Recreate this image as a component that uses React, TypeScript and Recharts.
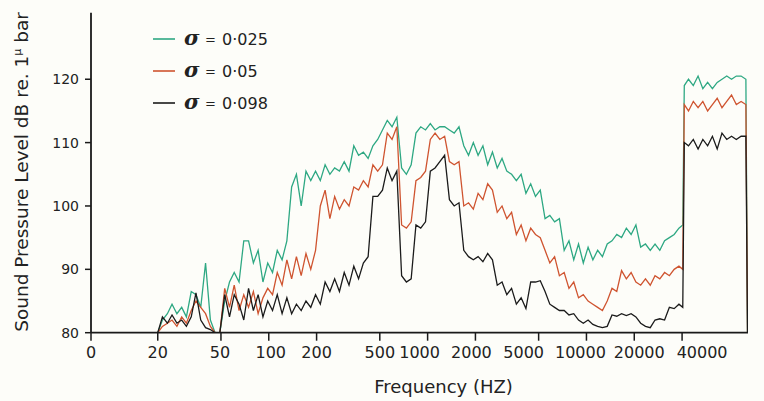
import React from 'react';
import { LineChart, Line, XAxis, YAxis, Legend } from 'recharts';

// Frequency (Hz) sample points read along the log axis
const freqHz = [7.6, 20, 21.4, 23, 24.6, 26.4, 28.3, 30.3, 32.5, 34.8, 37.3, 40, 42.9, 45.9, 49.2, 52.8, 56.6, 60.6, 65, 69.6, 74.6, 80, 85.7, 91.9, 98.5, 105.6, 113.1, 121.3, 130, 139.3, 149.3, 160, 171.5, 183.8, 197, 211.1, 226.3, 242.5, 259.9, 278.6, 298.6, 320, 343, 367.6, 394, 422.2, 452.5, 485, 519.8, 557.2, 597.2, 640, 686, 735.2, 788, 844.5, 905, 970, 1040, 1114, 1194, 1280, 1372, 1470, 1576, 1689, 1810, 1940, 2079, 2229, 2389, 2560, 2744, 2941, 3152, 3378, 3620, 3880, 4159, 4457, 4777, 5120, 5487, 5881, 6303, 6756, 7241, 7761, 8318, 8915, 9554, 10240, 10975, 11763, 12607, 13512, 14482, 15521, 16635, 17829, 19109, 20480, 21950, 23525, 25214, 27024, 28963, 31042, 33270, 35658, 38217, 40400, 41300, 43900, 47051, 50428, 54048, 57927, 62085, 66541, 71317, 76436, 81920, 87800, 94101, 100855, 103300, 104000];

// sigma = 0.025 (green)
const sigma025 = [80, 80, 82, 83, 84.5, 83, 84, 82.5, 86.5, 86, 84, 91, 82, 80, 80, 85, 88, 89.5, 88, 94.5, 94.5, 91, 93, 88, 91, 89.5, 93, 91.5, 94.5, 103, 105, 100, 105.5, 104, 105.5, 104, 106.5, 105, 106, 105.5, 107, 105.5, 109.5, 108, 108.5, 107.5, 109.5, 110.5, 112, 113.5, 112.5, 114, 106, 105, 106.5, 111.5, 112.5, 112, 113, 112, 112.5, 112.5, 112, 111.5, 112.5, 109.5, 108, 110, 108, 109.5, 106.5, 108.5, 106, 107.5, 105.5, 105, 104, 105, 102, 103.5, 101.5, 102.5, 98, 98.5, 97.5, 98, 93, 94.5, 91.5, 94, 91, 93.5, 91.5, 93, 92, 94, 94.5, 95.5, 95, 96.5, 95.5, 97, 93.5, 94, 93, 94, 93, 94.5, 95, 95.5, 96.5, 97, 119, 120, 119, 120.5, 118.5, 119.5, 118.5, 119.5, 120, 120.5, 120, 120.5, 120.5, 120, 80, 80];

// sigma = 0.05 (red)
const sigma05 = [80, 80, 81, 81.5, 82, 81, 82.5, 81.5, 83.5, 85, 84, 83, 81, 80, 80, 87, 84, 87.5, 83.5, 86, 84, 86.5, 83, 85.5, 87, 86, 89.5, 87.5, 91.5, 88.5, 92, 89, 92.5, 90, 93, 100, 102.5, 98, 101.5, 99.5, 101, 100, 103, 102.5, 104, 103, 106.5, 105.5, 106.5, 111.5, 110.5, 112.5, 97, 96.5, 97.5, 104, 104.5, 105.5, 110.5, 111.5, 110.5, 111, 107, 106.5, 107, 100, 100.5, 99.5, 102, 101, 103.5, 102.5, 99, 100, 98, 99, 95.5, 97, 94.5, 96.5, 95.5, 95, 93, 91, 92, 89, 89.5, 87, 88, 85.5, 86, 85, 84.5, 84, 83.5, 85, 87, 86.5, 89.8, 88.5, 89.5, 88, 87.5, 88.5, 87.5, 89, 88.5, 89.5, 89, 90, 90.5, 90, 116, 115, 116.5, 115.5, 116.5, 115, 116, 117, 115.5, 116.5, 117.5, 116, 116.5, 116, 80, 80];

// sigma = 0.098 (black)
const sigma098 = [80, 80, 82.5, 81.5, 82.8, 81.5, 82, 81, 82.5, 86.3, 82, 80.8, 80.5, 80, 80, 86, 82.5, 86, 84.5, 82, 87, 83.5, 86, 82.5, 85, 83.5, 86, 83, 85.5, 83, 84.5, 83.5, 85, 84, 86, 84.5, 88, 86.5, 88.5, 86.5, 89.5, 87.5, 90.5, 88.5, 91, 92, 101.5, 101.5, 102.5, 106, 104, 105.5, 89, 88, 88.5, 97, 96.5, 97.5, 105.5, 106, 107, 108, 101, 100, 100.5, 93, 92, 91.5, 92, 91.2, 92.5, 91.5, 87.5, 88, 86, 87, 84.5, 85.5, 83.8, 88, 88, 88.2, 86.5, 84.5, 84, 83.5, 83.5, 82.8, 83, 82, 81.5, 82, 81.3, 81, 80.8, 81, 82.8, 82.6, 83, 82.7, 83, 82.5, 81.5, 81, 80.8, 82, 82.2, 82, 84, 83.8, 84.5, 84, 110, 109.5, 110.5, 109, 110.5, 109.5, 111, 109, 111.5, 110.5, 111, 110.5, 111, 111, 80, 80];

const xTicks = [7.6, 20, 50, 100, 200, 500, 1000, 2000, 5000, 10000, 20000, 40000];
const xTickLabels = ['0', '20', '50', '100', '200', '500', '1000', '2000', '5000', '10000', '20000', '40000'];
// horizontal nudge of each printed tick label (hand-set lettering in the original)
const xTickShift = [0, 0, -1, 2, 0, 0, -8, -4, -15, -6, 5, 20];
const yTicks = [80, 90, 100, 110, 120];
const seriesKeys = ['s1', 's2', 's3'];
const seriesNames = ['0·025', '0·05', '0·098'];
const seriesColors = ['#2ea883', '#cf5430', '#1b1b1b'];

const data = freqHz.map((f, i) => ({ f, s1: sigma025[i], s2: sigma05[i], s3: sigma098[i] }));

const FONT = 'DejaVu Sans';
const INK = '#222';

const XTick = (props: any) => {
  const { x, y, payload } = props;
  const i = xTicks.indexOf(payload.value);
  return (
    <text
      x={x + (i >= 0 ? xTickShift[i] : 0)}
      y={y}
      dy="0.71em"
      textAnchor="middle"
      fontFamily={FONT}
      fontSize={16}
      fill={INK}
    >
      {i >= 0 ? xTickLabels[i] : String(payload.value)}
    </text>
  );
};

const renderLegend = () => (
  <svg width={140} height={96}>
    {seriesNames.map((n, i) => (
      <g key={n}>
        <line x1={3} x2={25} y1={16 + 32 * i} y2={16 + 32 * i} stroke={seriesColors[i]} strokeWidth={1.6} />
        <text x={34} y={21.5 + 32 * i} fontFamily="DejaVu Serif" fontStyle="italic" fontWeight="bold" fontSize={21} fill={INK}>σ</text>
        <text x={55} y={20.5 + 32 * i} fontFamily={FONT} fontSize={13} fill={INK}>=</text>
        <text x={72} y={21.5 + 32 * i} fontFamily={FONT} fontSize={16} fill={INK}>{n}</text>
      </g>
    ))}
  </svg>
);

const YLabel = () => (
  <text
    x={28}
    y={172}
    transform="rotate(-90 28 172)"
    textAnchor="middle"
    fontFamily={FONT}
    fontSize={18.5}
    fill={INK}
  >
    Sound Pressure Level dB re. 1<tspan fontSize={11} dy={-7}>μ</tspan><tspan dy={7}> bar</tspan>
  </text>
);

const XLabel = () => (
  <text x={443.5} y={393} textAnchor="middle" fontFamily={FONT} fontSize={18} fill={INK}>
    Frequency (HZ)
  </text>
);

export default function App() {
  return (
    <div style={{ position: 'absolute', left: 0, top: 0, width: 764, height: 401, background: '#fdfdf9', overflow: 'hidden' }}>
      <LineChart width={764} height={401} data={data} margin={{ top: 12.7, right: 16, bottom: 0, left: 0 }}>
        <XAxis
          dataKey="f"
          type="number"
          scale="log"
          domain={[7.6, 104000]}
          allowDataOverflow
          ticks={xTicks}
          interval={0}
          height={68.3}
          tickSize={8}
          tickMargin={6}
          tick={<XTick />}
          axisLine={{ stroke: '#1a1a1a', strokeWidth: 1.8 }}
          tickLine={{ stroke: '#1a1a1a', strokeWidth: 1.5 }}
          label={{ content: () => <XLabel /> }}
        />
        <YAxis
          type="number"
          domain={[80, 130.5]}
          allowDataOverflow
          ticks={yTicks}
          width={91}
          tickSize={6}
          tickMargin={6}
          tick={{ fontSize: 14, fill: INK, fontFamily: FONT }}
          axisLine={{ stroke: '#1a1a1a', strokeWidth: 1.8 }}
          tickLine={{ stroke: '#1a1a1a', strokeWidth: 1.5 }}
          label={{ content: () => <YLabel /> }}
        />
        <Legend
          content={renderLegend}
          layout="vertical"
          align="center"
          verticalAlign="middle"
          wrapperStyle={{ left: 150, top: 23, width: 140, height: 96 }}
        />
        {seriesKeys.map((k, i) => (
          <Line
            key={k}
            dataKey={k}
            name={seriesNames[i]}
            type="linear"
            stroke={seriesColors[i]}
            strokeWidth={1.3}
            dot={false}
            activeDot={false}
            isAnimationActive={false}
          />
        ))}
      </LineChart>
    </div>
  );
}
